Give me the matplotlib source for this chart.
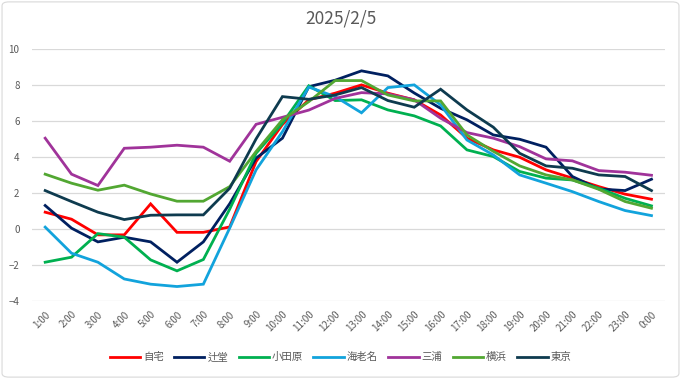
import matplotlib
matplotlib.use('Agg')
import matplotlib.pyplot as plt
from matplotlib.patches import FancyBboxPatch

plt.rcParams['font.family'] = ['Noto Sans CJK JP', 'DejaVu Sans']

# Hours on the category axis
hours = [f'{h}:00' for h in range(1, 24)] + ['0:00']

# Series values
jitaku = [0.93, 0.54, -0.33, -0.33, 1.39, -0.19, -0.19, 0.11, 3.74, 5.8, 7.17, 7.54,
          8.0, 7.54, 7.17, 6.33, 5.04, 4.39, 3.98, 3.28, 2.82, 2.35, 1.93, 1.65]
tsujido = [1.30, 0.04, -0.72, -0.46, -0.72, -1.85, -0.72, 1.4, 3.93, 5.04, 7.9, 8.26,
           8.78, 8.5, 7.55, 6.7, 6.06, 5.22, 4.98, 4.54, 2.91, 2.22, 2.13, 2.76]
odawara = [-1.85, -1.57, -0.26, -0.46, -1.72, -2.33, -1.70, 1.1, 4.2, 5.87, 7.95, 7.13,
           7.17, 6.61, 6.28, 5.72, 4.39, 4.02, 3.19, 2.82, 2.72, 2.26, 1.70, 1.28]
ebina = [0.1, -1.35, -1.85, -2.78, -3.07, -3.20, -3.07, 0.05, 3.28, 5.4, 7.88, 7.35,
         6.45, 7.85, 8.0, 6.89, 4.94, 4.11, 3.0, 2.54, 2.07, 1.52, 1.02, 0.74]
miura = [5.04, 3.04, 2.41, 4.48, 4.54, 4.65, 4.54, 3.76, 5.81, 6.2, 6.6, 7.25,
         7.57, 7.5, 7.17, 6.15, 5.35, 5.04, 4.57, 3.89, 3.78, 3.24, 3.15, 2.98]
yokohama = [3.04, 2.54, 2.15, 2.43, 1.94, 1.54, 1.54, 2.35, 4.3, 6.06, 7.07, 8.24,
            8.24, 7.44, 7.11, 7.11, 5.22, 4.31, 3.5, 3.0, 2.72, 2.2, 1.52, 1.15]
tokyo = [2.13, 1.52, 0.93, 0.52, 0.76, 0.78, 0.78, 2.26, 5.0, 7.35, 7.2, 7.44,
         7.85, 7.13, 6.76, 7.76, 6.61, 5.65, 4.2, 3.5, 3.37, 3.0, 2.91, 2.13]

series = [jitaku, tsujido, odawara, ebina, miura, yokohama, tokyo]
names = ['自宅', '辻堂', '小田原', '海老名', '三浦', '横浜', '東京']
colors = ['#FF0000', '#002060', '#00B050', '#12A3DC', '#A0339A', '#52A732', '#0E3B4F']

yticks = list(range(-4, 11, 2))

fig = plt.figure(figsize=(6.81, 3.79), dpi=100)
ax = fig.add_axes([0.047, 0.206, 0.929, 0.665])

x = list(range(len(hours)))
for vals, name, col in zip(series, names, colors):
    ax.plot(x, vals, color=col, linewidth=2.0, label=name, solid_joinstyle='miter')

ax.set_xlim(-0.5, len(hours) - 0.5)
ax.set_ylim(-4, 10)
ax.set_yticks(yticks)
ax.set_xticks(x)
ax.set_xticklabels(hours, rotation=45, ha='right', rotation_mode='anchor')
ax.tick_params(axis='both', length=0, labelsize=7, colors='#595959')
ax.tick_params(axis='x', pad=6)
ax.tick_params(axis='y', pad=9)
ax.grid(axis='y', color='#D9D9D9', linewidth=0.9)
ax.set_axisbelow(True)
for s in ax.spines.values():
    s.set_visible(False)

fig.text(0.5, 0.952, '2025/2/5', ha='center', va='center', fontsize=12.5, color='#595959')

fig.legend(loc='center', bbox_to_anchor=(0.5, 0.057), ncol=7, frameon=False,
           fontsize=7.5, labelcolor='#595959', handlelength=2.9, handletextpad=0.3,
           columnspacing=1.0)

border = FancyBboxPatch((0.003, 0.005), 0.994, 0.99, boxstyle='round,pad=0,rounding_size=0.01',
                        transform=fig.transFigure, fill=False, edgecolor='#D9D9D9', linewidth=0.8)
fig.patches.append(border)

fig.savefig('out.png', dpi=100)
